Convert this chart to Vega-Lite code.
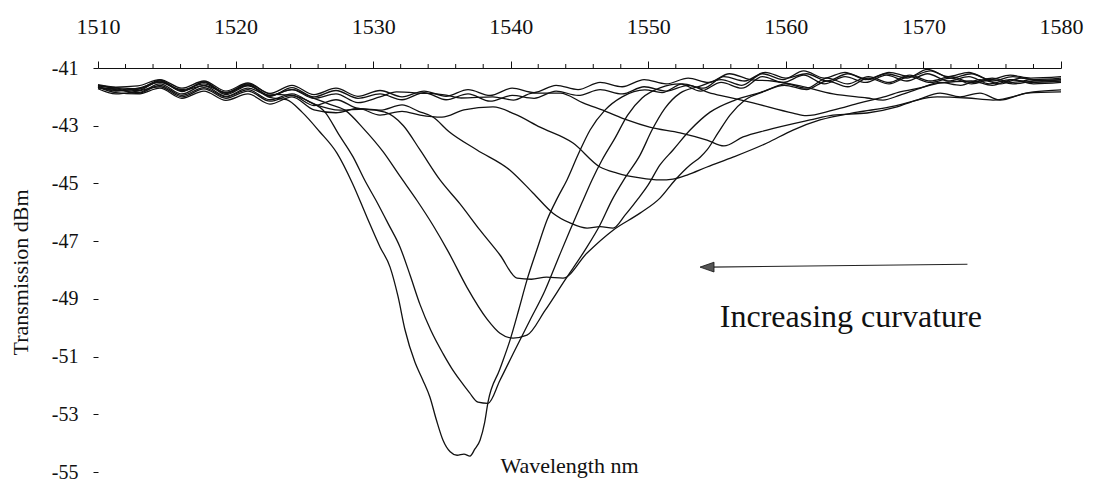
{
  "$schema": "https://vega.github.io/schema/vega-lite/v6.json",
  "width": 963,
  "height": 404,
  "autosize": "none",
  "padding": {"left": 98, "top": 68, "right": 34, "bottom": 9},
  "background": "white",
  "config": {"view": {"stroke": null}, "font": "Liberation Serif"},
  "datasets": {
    "spectra": [
      {"curve":"A","nm":1510,"dBm":-41.62},{"curve":"A","nm":1511.3,"dBm":-41.7},{"curve":"A","nm":1512.9,"dBm":-41.78},{"curve":"A","nm":1514.5,"dBm":-41.45},{"curve":"A","nm":1516.1,"dBm":-41.82},{"curve":"A","nm":1517.7,"dBm":-41.5},{"curve":"A","nm":1519.3,"dBm":-41.92},{"curve":"A","nm":1520.9,"dBm":-41.62},{"curve":"A","nm":1522.5,"dBm":-42.02},{"curve":"A","nm":1523.7,"dBm":-42.1},{"curve":"A","nm":1524.83,"dBm":-42.53},{"curve":"A","nm":1526.1,"dBm":-43.2},{"curve":"A","nm":1527.37,"dBm":-43.95},{"curve":"A","nm":1528.5,"dBm":-45.0},{"curve":"A","nm":1529.55,"dBm":-46.17},{"curve":"A","nm":1530.5,"dBm":-47.2},{"curve":"A","nm":1531.23,"dBm":-47.9},{"curve":"A","nm":1531.8,"dBm":-48.9},{"curve":"A","nm":1532.32,"dBm":-50.08},{"curve":"A","nm":1533.04,"dBm":-51.2},{"curve":"A","nm":1533.6,"dBm":-51.8},{"curve":"A","nm":1534.13,"dBm":-52.41},{"curve":"A","nm":1534.6,"dBm":-53.2},{"curve":"A","nm":1535.08,"dBm":-53.9},{"curve":"A","nm":1535.6,"dBm":-54.3},{"curve":"A","nm":1536.1,"dBm":-54.42},{"curve":"A","nm":1536.6,"dBm":-54.38},{"curve":"A","nm":1537.04,"dBm":-54.45},{"curve":"A","nm":1537.4,"dBm":-54.2},{"curve":"A","nm":1537.77,"dBm":-53.9},{"curve":"A","nm":1538.1,"dBm":-53.3},{"curve":"A","nm":1538.35,"dBm":-52.58},{"curve":"A","nm":1539.2,"dBm":-51.45},{"curve":"A","nm":1539.95,"dBm":-50.43},{"curve":"A","nm":1540.6,"dBm":-49.35},{"curve":"A","nm":1541.18,"dBm":-48.35},{"curve":"A","nm":1541.9,"dBm":-47.3},{"curve":"A","nm":1542.64,"dBm":-46.27},{"curve":"A","nm":1543.4,"dBm":-45.5},{"curve":"A","nm":1544.09,"dBm":-44.88},{"curve":"A","nm":1544.9,"dBm":-44.0},{"curve":"A","nm":1545.77,"dBm":-43.15},{"curve":"A","nm":1546.85,"dBm":-42.46},{"curve":"A","nm":1548.1,"dBm":-42.0},{"curve":"A","nm":1549.75,"dBm":-41.76},{"curve":"A","nm":1551,"dBm":-41.85},{"curve":"A","nm":1552.5,"dBm":-41.55},{"curve":"A","nm":1554,"dBm":-41.7},{"curve":"A","nm":1555.5,"dBm":-41.3},{"curve":"A","nm":1557,"dBm":-41.45},{"curve":"A","nm":1558.5,"dBm":-41.15},{"curve":"A","nm":1560,"dBm":-41.35},{"curve":"A","nm":1561.5,"dBm":-41.2},{"curve":"A","nm":1563,"dBm":-41.45},{"curve":"A","nm":1564.5,"dBm":-41.2},{"curve":"A","nm":1566,"dBm":-41.4},{"curve":"A","nm":1567.5,"dBm":-41.15},{"curve":"A","nm":1569,"dBm":-41.3},{"curve":"A","nm":1570.5,"dBm":-41.1},{"curve":"A","nm":1572,"dBm":-41.35},{"curve":"A","nm":1573.5,"dBm":-41.2},{"curve":"A","nm":1575,"dBm":-41.45},{"curve":"A","nm":1576.5,"dBm":-41.3},{"curve":"A","nm":1578,"dBm":-41.4},{"curve":"A","nm":1580,"dBm":-41.35},

      {"curve":"B","nm":1510,"dBm":-41.68},{"curve":"B","nm":1511.3,"dBm":-41.75},{"curve":"B","nm":1512.9,"dBm":-41.85},{"curve":"B","nm":1514.5,"dBm":-41.55},{"curve":"B","nm":1516.1,"dBm":-41.9},{"curve":"B","nm":1517.7,"dBm":-41.6},{"curve":"B","nm":1519.3,"dBm":-41.85},{"curve":"B","nm":1520.9,"dBm":-41.55},{"curve":"B","nm":1522.5,"dBm":-41.9},{"curve":"B","nm":1524.1,"dBm":-41.95},{"curve":"B","nm":1525.3,"dBm":-42.15},{"curve":"B","nm":1526.5,"dBm":-42.53},{"curve":"B","nm":1527.5,"dBm":-43.3},{"curve":"B","nm":1528.54,"dBm":-44.08},{"curve":"B","nm":1529.4,"dBm":-44.9},{"curve":"B","nm":1530.28,"dBm":-45.65},{"curve":"B","nm":1531.1,"dBm":-46.4},{"curve":"B","nm":1531.95,"dBm":-47.2},{"curve":"B","nm":1532.7,"dBm":-48.2},{"curve":"B","nm":1533.41,"dBm":-49.2},{"curve":"B","nm":1534.2,"dBm":-50.1},{"curve":"B","nm":1535.08,"dBm":-50.9},{"curve":"B","nm":1535.7,"dBm":-51.4},{"curve":"B","nm":1536.31,"dBm":-51.82},{"curve":"B","nm":1537.0,"dBm":-52.25},{"curve":"B","nm":1537.62,"dBm":-52.58},{"curve":"B","nm":1538.35,"dBm":-52.62},{"curve":"B","nm":1539.22,"dBm":-51.82},{"curve":"B","nm":1540.3,"dBm":-50.78},{"curve":"B","nm":1541.4,"dBm":-49.74},{"curve":"B","nm":1542.5,"dBm":-48.7},{"curve":"B","nm":1543.4,"dBm":-47.66},{"curve":"B","nm":1544.31,"dBm":-46.62},{"curve":"B","nm":1545.26,"dBm":-45.58},{"curve":"B","nm":1545.91,"dBm":-44.88},{"curve":"B","nm":1546.64,"dBm":-44.19},{"curve":"B","nm":1547.58,"dBm":-43.43},{"curve":"B","nm":1548.5,"dBm":-42.63},{"curve":"B","nm":1549.55,"dBm":-42.04},{"curve":"B","nm":1550.85,"dBm":-41.69},{"curve":"B","nm":1552.3,"dBm":-41.55},{"curve":"B","nm":1553.8,"dBm":-41.8},{"curve":"B","nm":1555.3,"dBm":-41.5},{"curve":"B","nm":1556.8,"dBm":-41.7},{"curve":"B","nm":1558.3,"dBm":-41.3},{"curve":"B","nm":1559.8,"dBm":-41.5},{"curve":"B","nm":1561.3,"dBm":-41.25},{"curve":"B","nm":1562.8,"dBm":-41.55},{"curve":"B","nm":1564.3,"dBm":-41.3},{"curve":"B","nm":1565.8,"dBm":-41.5},{"curve":"B","nm":1567.3,"dBm":-41.25},{"curve":"B","nm":1568.8,"dBm":-41.45},{"curve":"B","nm":1570.3,"dBm":-41.2},{"curve":"B","nm":1571.8,"dBm":-41.45},{"curve":"B","nm":1573.3,"dBm":-41.3},{"curve":"B","nm":1574.8,"dBm":-41.55},{"curve":"B","nm":1576.3,"dBm":-41.4},{"curve":"B","nm":1577.8,"dBm":-41.5},{"curve":"B","nm":1580,"dBm":-41.45},

      {"curve":"C","nm":1510,"dBm":-41.65},{"curve":"C","nm":1511.3,"dBm":-41.8},{"curve":"C","nm":1512.9,"dBm":-41.7},{"curve":"C","nm":1514.5,"dBm":-41.5},{"curve":"C","nm":1516.1,"dBm":-41.78},{"curve":"C","nm":1517.7,"dBm":-41.62},{"curve":"C","nm":1519.3,"dBm":-41.98},{"curve":"C","nm":1520.9,"dBm":-41.7},{"curve":"C","nm":1522.5,"dBm":-41.95},{"curve":"C","nm":1524.1,"dBm":-41.75},{"curve":"C","nm":1525.7,"dBm":-42.05},{"curve":"C","nm":1526.8,"dBm":-42.25},{"curve":"C","nm":1527.95,"dBm":-42.46},{"curve":"C","nm":1529.3,"dBm":-43.1},{"curve":"C","nm":1530.72,"dBm":-43.9},{"curve":"C","nm":1531.95,"dBm":-44.75},{"curve":"C","nm":1533.2,"dBm":-45.6},{"curve":"C","nm":1534.35,"dBm":-46.45},{"curve":"C","nm":1535.5,"dBm":-47.4},{"curve":"C","nm":1536.82,"dBm":-48.6},{"curve":"C","nm":1538.28,"dBm":-49.7},{"curve":"C","nm":1539.22,"dBm":-50.19},{"curve":"C","nm":1540.17,"dBm":-50.36},{"curve":"C","nm":1541.18,"dBm":-50.26},{"curve":"C","nm":1542.5,"dBm":-49.4},{"curve":"C","nm":1543.94,"dBm":-48.35},{"curve":"C","nm":1545.4,"dBm":-47.31},{"curve":"C","nm":1546.49,"dBm":-46.44},{"curve":"C","nm":1547.36,"dBm":-45.58},{"curve":"C","nm":1548.31,"dBm":-44.81},{"curve":"C","nm":1549.4,"dBm":-44.02},{"curve":"C","nm":1550.27,"dBm":-43.15},{"curve":"C","nm":1551.22,"dBm":-42.39},{"curve":"C","nm":1552.31,"dBm":-41.87},{"curve":"C","nm":1553.77,"dBm":-41.63},{"curve":"C","nm":1555.3,"dBm":-41.4},{"curve":"C","nm":1556.8,"dBm":-41.6},{"curve":"C","nm":1558.3,"dBm":-41.2},{"curve":"C","nm":1559.8,"dBm":-41.4},{"curve":"C","nm":1561.3,"dBm":-41.1},{"curve":"C","nm":1562.8,"dBm":-41.35},{"curve":"C","nm":1564.3,"dBm":-41.15},{"curve":"C","nm":1565.8,"dBm":-41.4},{"curve":"C","nm":1567.3,"dBm":-41.2},{"curve":"C","nm":1568.8,"dBm":-41.35},{"curve":"C","nm":1570.3,"dBm":-41.05},{"curve":"C","nm":1571.8,"dBm":-41.3},{"curve":"C","nm":1573.3,"dBm":-41.15},{"curve":"C","nm":1574.8,"dBm":-41.4},{"curve":"C","nm":1576.3,"dBm":-41.25},{"curve":"C","nm":1577.8,"dBm":-41.35},{"curve":"C","nm":1580,"dBm":-41.3},

      {"curve":"D","nm":1510,"dBm":-41.7},{"curve":"D","nm":1511.3,"dBm":-41.72},{"curve":"D","nm":1512.9,"dBm":-41.88},{"curve":"D","nm":1514.5,"dBm":-41.6},{"curve":"D","nm":1516.1,"dBm":-41.95},{"curve":"D","nm":1517.7,"dBm":-41.68},{"curve":"D","nm":1519.3,"dBm":-42.0},{"curve":"D","nm":1520.9,"dBm":-41.75},{"curve":"D","nm":1522.5,"dBm":-42.1},{"curve":"D","nm":1524.1,"dBm":-41.9},{"curve":"D","nm":1525.7,"dBm":-42.25},{"curve":"D","nm":1527.6,"dBm":-42.46},{"curve":"D","nm":1529.3,"dBm":-42.42},{"curve":"D","nm":1530.86,"dBm":-42.53},{"curve":"D","nm":1532.2,"dBm":-43.0},{"curve":"D","nm":1533.41,"dBm":-43.84},{"curve":"D","nm":1534.86,"dBm":-44.88},{"curve":"D","nm":1536.3,"dBm":-45.7},{"curve":"D","nm":1537.77,"dBm":-46.62},{"curve":"D","nm":1539.22,"dBm":-47.48},{"curve":"D","nm":1540.46,"dBm":-48.28},{"curve":"D","nm":1541.5,"dBm":-48.32},{"curve":"D","nm":1542.6,"dBm":-48.25},{"curve":"D","nm":1543.8,"dBm":-48.28},{"curve":"D","nm":1545.55,"dBm":-47.41},{"curve":"D","nm":1547.44,"dBm":-46.62},{"curve":"D","nm":1549.4,"dBm":-46.03},{"curve":"D","nm":1550.85,"dBm":-45.51},{"curve":"D","nm":1551.95,"dBm":-44.88},{"curve":"D","nm":1553.04,"dBm":-44.36},{"curve":"D","nm":1553.77,"dBm":-44.09},{"curve":"D","nm":1554.27,"dBm":-43.84},{"curve":"D","nm":1555.07,"dBm":-43.25},{"curve":"D","nm":1555.94,"dBm":-42.63},{"curve":"D","nm":1557.03,"dBm":-42.11},{"curve":"D","nm":1558.48,"dBm":-41.8},{"curve":"D","nm":1560,"dBm":-41.55},{"curve":"D","nm":1561.5,"dBm":-41.7},{"curve":"D","nm":1563,"dBm":-41.35},{"curve":"D","nm":1564.5,"dBm":-41.55},{"curve":"D","nm":1566,"dBm":-41.3},{"curve":"D","nm":1567.5,"dBm":-41.5},{"curve":"D","nm":1569,"dBm":-41.25},{"curve":"D","nm":1570.5,"dBm":-41.45},{"curve":"D","nm":1572,"dBm":-41.3},{"curve":"D","nm":1573.5,"dBm":-41.5},{"curve":"D","nm":1575,"dBm":-41.35},{"curve":"D","nm":1576.5,"dBm":-41.5},{"curve":"D","nm":1578,"dBm":-41.4},{"curve":"D","nm":1580,"dBm":-41.5},

      {"curve":"E","nm":1510,"dBm":-41.72},{"curve":"E","nm":1511.3,"dBm":-41.9},{"curve":"E","nm":1512.9,"dBm":-41.8},{"curve":"E","nm":1514.5,"dBm":-41.65},{"curve":"E","nm":1516.1,"dBm":-42.0},{"curve":"E","nm":1517.7,"dBm":-41.72},{"curve":"E","nm":1519.3,"dBm":-42.05},{"curve":"E","nm":1520.9,"dBm":-41.8},{"curve":"E","nm":1522.5,"dBm":-42.15},{"curve":"E","nm":1524.1,"dBm":-41.95},{"curve":"E","nm":1525.7,"dBm":-42.3},{"curve":"E","nm":1527.3,"dBm":-42.1},{"curve":"E","nm":1528.9,"dBm":-42.4},{"curve":"E","nm":1530.5,"dBm":-42.46},{"curve":"E","nm":1532.1,"dBm":-42.28},{"curve":"E","nm":1533.3,"dBm":-42.5},{"curve":"E","nm":1534.35,"dBm":-42.7},{"curve":"E","nm":1535.5,"dBm":-43.2},{"curve":"E","nm":1537.55,"dBm":-43.84},{"curve":"E","nm":1539.95,"dBm":-44.54},{"curve":"E","nm":1541.62,"dBm":-45.33},{"curve":"E","nm":1543.07,"dBm":-46.03},{"curve":"E","nm":1544.31,"dBm":-46.37},{"curve":"E","nm":1545.55,"dBm":-46.55},{"curve":"E","nm":1546.5,"dBm":-46.5},{"curve":"E","nm":1547.44,"dBm":-46.55},{"curve":"E","nm":1548.31,"dBm":-46.1},{"curve":"E","nm":1549.18,"dBm":-45.58},{"curve":"E","nm":1549.98,"dBm":-45.06},{"curve":"E","nm":1550.85,"dBm":-44.36},{"curve":"E","nm":1551.8,"dBm":-43.84},{"curve":"E","nm":1553.04,"dBm":-43.15},{"curve":"E","nm":1554.49,"dBm":-42.53},{"curve":"E","nm":1556.3,"dBm":-42.11},{"curve":"E","nm":1558.12,"dBm":-41.85},{"curve":"E","nm":1559.9,"dBm":-41.6},{"curve":"E","nm":1561.5,"dBm":-41.75},{"curve":"E","nm":1563,"dBm":-41.45},{"curve":"E","nm":1564.5,"dBm":-41.65},{"curve":"E","nm":1566,"dBm":-41.35},{"curve":"E","nm":1567.5,"dBm":-41.55},{"curve":"E","nm":1569,"dBm":-41.3},{"curve":"E","nm":1570.5,"dBm":-41.5},{"curve":"E","nm":1572,"dBm":-41.35},{"curve":"E","nm":1573.5,"dBm":-41.55},{"curve":"E","nm":1575,"dBm":-41.4},{"curve":"E","nm":1576.5,"dBm":-41.55},{"curve":"E","nm":1578,"dBm":-41.45},{"curve":"E","nm":1580,"dBm":-41.4},

      {"curve":"F","nm":1510,"dBm":-41.66},{"curve":"F","nm":1511.3,"dBm":-41.85},{"curve":"F","nm":1512.9,"dBm":-41.9},{"curve":"F","nm":1514.5,"dBm":-41.7},{"curve":"F","nm":1516.1,"dBm":-42.05},{"curve":"F","nm":1517.7,"dBm":-41.8},{"curve":"F","nm":1519.3,"dBm":-42.12},{"curve":"F","nm":1520.9,"dBm":-41.9},{"curve":"F","nm":1522.5,"dBm":-42.25},{"curve":"F","nm":1524.1,"dBm":-42.0},{"curve":"F","nm":1525.7,"dBm":-42.45},{"curve":"F","nm":1527.3,"dBm":-42.55},{"curve":"F","nm":1528.9,"dBm":-42.4},{"curve":"F","nm":1530.5,"dBm":-42.63},{"curve":"F","nm":1532.1,"dBm":-42.5},{"curve":"F","nm":1533.41,"dBm":-42.63},{"curve":"F","nm":1535.0,"dBm":-42.7},{"curve":"F","nm":1536.6,"dBm":-42.45},{"curve":"F","nm":1538.71,"dBm":-42.35},{"curve":"F","nm":1540.3,"dBm":-42.6},{"curve":"F","nm":1542.13,"dBm":-43.05},{"curve":"F","nm":1544.53,"dBm":-43.6},{"curve":"F","nm":1546.49,"dBm":-44.43},{"curve":"F","nm":1547.73,"dBm":-44.64},{"curve":"F","nm":1549.4,"dBm":-44.81},{"curve":"F","nm":1550.85,"dBm":-44.88},{"curve":"F","nm":1551.8,"dBm":-44.85},{"curve":"F","nm":1552.82,"dBm":-44.71},{"curve":"F","nm":1554.27,"dBm":-44.43},{"curve":"F","nm":1556.16,"dBm":-44.09},{"curve":"F","nm":1558.63,"dBm":-43.6},{"curve":"F","nm":1560.52,"dBm":-43.15},{"curve":"F","nm":1562.48,"dBm":-42.8},{"curve":"F","nm":1565.2,"dBm":-42.53},{"curve":"F","nm":1567.57,"dBm":-42.35},{"curve":"F","nm":1569.53,"dBm":-42.11},{"curve":"F","nm":1571.21,"dBm":-41.87},{"curve":"F","nm":1572.66,"dBm":-42.0},{"curve":"F","nm":1574.11,"dBm":-41.87},{"curve":"F","nm":1575.57,"dBm":-42.11},{"curve":"F","nm":1577.53,"dBm":-41.87},{"curve":"F","nm":1580,"dBm":-41.83},

      {"curve":"G","nm":1510,"dBm":-41.6},{"curve":"G","nm":1511.3,"dBm":-41.68},{"curve":"G","nm":1512.9,"dBm":-41.72},{"curve":"G","nm":1514.5,"dBm":-41.48},{"curve":"G","nm":1516.1,"dBm":-41.75},{"curve":"G","nm":1517.7,"dBm":-41.55},{"curve":"G","nm":1519.3,"dBm":-41.85},{"curve":"G","nm":1520.9,"dBm":-41.6},{"curve":"G","nm":1522.5,"dBm":-41.95},{"curve":"G","nm":1524.1,"dBm":-41.75},{"curve":"G","nm":1525.7,"dBm":-42.05},{"curve":"G","nm":1527.3,"dBm":-41.9},{"curve":"G","nm":1528.9,"dBm":-42.2},{"curve":"G","nm":1530.5,"dBm":-42.0},{"curve":"G","nm":1531.7,"dBm":-41.83},{"curve":"G","nm":1533.4,"dBm":-41.87},{"curve":"G","nm":1535.3,"dBm":-41.94},{"curve":"G","nm":1536.4,"dBm":-42.04},{"curve":"G","nm":1538.7,"dBm":-42.0},{"curve":"G","nm":1540.2,"dBm":-42.11},{"curve":"G","nm":1541.6,"dBm":-41.87},{"curve":"G","nm":1543.6,"dBm":-41.87},{"curve":"G","nm":1545.26,"dBm":-42.21},{"curve":"G","nm":1546.9,"dBm":-42.5},{"curve":"G","nm":1548.45,"dBm":-42.8},{"curve":"G","nm":1550.1,"dBm":-43.05},{"curve":"G","nm":1552.31,"dBm":-43.25},{"curve":"G","nm":1554.27,"dBm":-43.5},{"curve":"G","nm":1555.5,"dBm":-43.7},{"curve":"G","nm":1556.89,"dBm":-43.39},{"curve":"G","nm":1558.63,"dBm":-43.15},{"curve":"G","nm":1561.76,"dBm":-42.8},{"curve":"G","nm":1563.43,"dBm":-42.63},{"curve":"G","nm":1565.9,"dBm":-42.56},{"curve":"G","nm":1568.08,"dBm":-42.35},{"curve":"G","nm":1569.53,"dBm":-42.11},{"curve":"G","nm":1571.0,"dBm":-42.0},{"curve":"G","nm":1573.2,"dBm":-42.04},{"curve":"G","nm":1575.06,"dBm":-42.11},{"curve":"G","nm":1578.0,"dBm":-41.83},{"curve":"G","nm":1580,"dBm":-41.76},

      {"curve":"H","nm":1510,"dBm":-41.64},{"curve":"H","nm":1511.3,"dBm":-41.78},{"curve":"H","nm":1512.9,"dBm":-41.74},{"curve":"H","nm":1514.5,"dBm":-41.42},{"curve":"H","nm":1516.1,"dBm":-41.8},{"curve":"H","nm":1517.7,"dBm":-41.48},{"curve":"H","nm":1519.3,"dBm":-41.88},{"curve":"H","nm":1520.9,"dBm":-41.58},{"curve":"H","nm":1522.5,"dBm":-41.98},{"curve":"H","nm":1524.1,"dBm":-41.68},{"curve":"H","nm":1525.7,"dBm":-42.0},{"curve":"H","nm":1527.3,"dBm":-41.78},{"curve":"H","nm":1528.9,"dBm":-42.05},{"curve":"H","nm":1530.5,"dBm":-41.9},{"curve":"H","nm":1532.1,"dBm":-42.1},{"curve":"H","nm":1533.7,"dBm":-41.85},{"curve":"H","nm":1535.3,"dBm":-42.1},{"curve":"H","nm":1536.9,"dBm":-41.9},{"curve":"H","nm":1538.5,"dBm":-42.15},{"curve":"H","nm":1540.1,"dBm":-41.95},{"curve":"H","nm":1541.7,"dBm":-42.05},{"curve":"H","nm":1543.3,"dBm":-41.8},{"curve":"H","nm":1544.9,"dBm":-41.95},{"curve":"H","nm":1546.5,"dBm":-41.75},{"curve":"H","nm":1548.1,"dBm":-41.9},{"curve":"H","nm":1549.7,"dBm":-41.65},{"curve":"H","nm":1551.3,"dBm":-41.8},{"curve":"H","nm":1552.9,"dBm":-41.6},{"curve":"H","nm":1554.4,"dBm":-41.85},{"curve":"H","nm":1555.72,"dBm":-42.0},{"curve":"H","nm":1557.61,"dBm":-42.21},{"curve":"H","nm":1560.52,"dBm":-42.56},{"curve":"H","nm":1561.5,"dBm":-42.65},{"curve":"H","nm":1563.43,"dBm":-42.46},{"curve":"H","nm":1565.39,"dBm":-42.21},{"curve":"H","nm":1567.06,"dBm":-42.01},{"curve":"H","nm":1568.3,"dBm":-41.83},{"curve":"H","nm":1569.75,"dBm":-41.69},{"curve":"H","nm":1571.21,"dBm":-41.52},{"curve":"H","nm":1573.5,"dBm":-41.45},{"curve":"H","nm":1575,"dBm":-41.6},{"curve":"H","nm":1576.5,"dBm":-41.4},{"curve":"H","nm":1578,"dBm":-41.55},{"curve":"H","nm":1580,"dBm":-41.5},

      {"curve":"I","nm":1510,"dBm":-41.58},{"curve":"I","nm":1511.3,"dBm":-41.66},{"curve":"I","nm":1512.9,"dBm":-41.62},{"curve":"I","nm":1514.5,"dBm":-41.4},{"curve":"I","nm":1516.1,"dBm":-41.7},{"curve":"I","nm":1517.7,"dBm":-41.45},{"curve":"I","nm":1519.3,"dBm":-41.8},{"curve":"I","nm":1520.9,"dBm":-41.52},{"curve":"I","nm":1522.5,"dBm":-41.88},{"curve":"I","nm":1524.1,"dBm":-41.6},{"curve":"I","nm":1525.7,"dBm":-41.92},{"curve":"I","nm":1527.3,"dBm":-41.7},{"curve":"I","nm":1528.9,"dBm":-41.98},{"curve":"I","nm":1530.5,"dBm":-41.78},{"curve":"I","nm":1532.1,"dBm":-42.0},{"curve":"I","nm":1533.7,"dBm":-41.8},{"curve":"I","nm":1535.3,"dBm":-41.98},{"curve":"I","nm":1536.9,"dBm":-41.75},{"curve":"I","nm":1538.5,"dBm":-41.95},{"curve":"I","nm":1540.1,"dBm":-41.7},{"curve":"I","nm":1541.7,"dBm":-41.85},{"curve":"I","nm":1543.3,"dBm":-41.6},{"curve":"I","nm":1544.9,"dBm":-41.75},{"curve":"I","nm":1546.5,"dBm":-41.5},{"curve":"I","nm":1548.1,"dBm":-41.65},{"curve":"I","nm":1549.7,"dBm":-41.4},{"curve":"I","nm":1551.3,"dBm":-41.55},{"curve":"I","nm":1552.9,"dBm":-41.35},{"curve":"I","nm":1554.4,"dBm":-41.5},{"curve":"I","nm":1555.9,"dBm":-41.2},{"curve":"I","nm":1557.4,"dBm":-41.4},{"curve":"I","nm":1559.0,"dBm":-41.45},{"curve":"I","nm":1561.03,"dBm":-41.62},{"curve":"I","nm":1563.43,"dBm":-41.9},{"curve":"I","nm":1565.9,"dBm":-42.04},{"curve":"I","nm":1567.06,"dBm":-42.11},{"curve":"I","nm":1568.3,"dBm":-41.94},{"curve":"I","nm":1569.8,"dBm":-41.7},{"curve":"I","nm":1571.2,"dBm":-41.5},{"curve":"I","nm":1572.7,"dBm":-41.6},{"curve":"I","nm":1574.1,"dBm":-41.4},{"curve":"I","nm":1575.6,"dBm":-41.55},{"curve":"I","nm":1577.1,"dBm":-41.35},{"curve":"I","nm":1578.6,"dBm":-41.45},{"curve":"I","nm":1580,"dBm":-41.4}
    ],
    "minorTicks": [
      {"nm":1512},{"nm":1514},{"nm":1516},{"nm":1518},{"nm":1522},{"nm":1524},{"nm":1526},{"nm":1528},
      {"nm":1532},{"nm":1534},{"nm":1536},{"nm":1538},{"nm":1542},{"nm":1544},{"nm":1546},{"nm":1548},
      {"nm":1552},{"nm":1554},{"nm":1556},{"nm":1558},{"nm":1562},{"nm":1564},{"nm":1566},{"nm":1568},
      {"nm":1572},{"nm":1574},{"nm":1576},{"nm":1578}
    ],
    "arrow": [{"nm": 1573.2, "dBm": -47.8, "nm2": 1554.4, "dBm2": -47.9}],
    "arrowhead": [{"nm": 1554.27, "dBm": -47.9}],
    "note": [{"nm": 1555.2, "dBm": -49.98, "text": "Increasing curvature"}]
  },
  "layer": [
    {
      "data": {"name": "spectra"},
      "mark": {"type": "line", "color": "#111", "strokeWidth": 1.3, "interpolate": "monotone"},
      "encoding": {
        "x": {
          "field": "nm", "type": "quantitative",
          "scale": {"domain": [1510, 1580], "nice": false, "zero": false},
          "axis": {
            "orient": "top",
            "values": [1510, 1520, 1530, 1540, 1550, 1560, 1570, 1580],
            "format": "d",
            "tickSize": 7, "tickColor": "#111", "tickWidth": 1,
            "domainColor": "#111", "domainWidth": 1.2,
            "grid": false,
            "labelFont": "Liberation Serif", "labelFontSize": 22, "labelColor": "#111",
            "labelPadding": 23, "labelFlush": false, "labelOverlap": false,
            "title": "Wavelength nm",
            "titleFont": "Liberation Serif", "titleFontSize": 22, "titleFontWeight": "normal", "titleColor": "#111",
            "titleX": 471, "titleY": 404, "titleAlign": "center", "titleBaseline": "alphabetic"
          }
        },
        "y": {
          "field": "dBm", "type": "quantitative",
          "scale": {"domain": [-55, -41], "nice": false, "zero": false},
          "axis": {
            "values": [-41, -43, -45, -47, -49, -51, -53, -55],
            "labelExpr": "'-' + abs(datum.value)",
            "domain": false, "grid": false,
            "tickSize": 5, "tickColor": "#111", "tickWidth": 1,
            "labelFont": "Liberation Serif", "labelFontSize": 20, "labelColor": "#111",
            "labelPadding": 15, "labelFlush": false, "labelOverlap": false,
            "title": "Transmission dBm",
            "titleFont": "Liberation Serif", "titleFontSize": 22, "titleFontWeight": "normal", "titleColor": "#111",
            "titleAngle": -90, "titleX": -71, "titleY": 204, "titleAlign": "center", "titleBaseline": "alphabetic"
          }
        },
        "detail": {"field": "curve"}
      }
    },
    {
      "data": {"name": "minorTicks"},
      "mark": {"type": "tick", "orient": "vertical", "size": 4, "thickness": 1, "color": "#111", "opacity": 1, "yOffset": -2},
      "encoding": {
        "x": {"field": "nm", "type": "quantitative"},
        "y": {"datum": -41, "type": "quantitative"}
      }
    },
    {
      "data": {"name": "arrow"},
      "mark": {"type": "rule", "color": "#222", "strokeWidth": 1.2},
      "encoding": {
        "x": {"field": "nm", "type": "quantitative"},
        "x2": {"field": "nm2"},
        "y": {"field": "dBm", "type": "quantitative"},
        "y2": {"field": "dBm2"}
      }
    },
    {
      "data": {"name": "arrowhead"},
      "mark": {"type": "point", "shape": "M-1,0L1,-0.7L1,0.7Z", "filled": true, "fill": "#555", "stroke": "#111", "strokeWidth": 0.8, "size": 196, "opacity": 1},
      "encoding": {
        "x": {"field": "nm", "type": "quantitative"},
        "y": {"field": "dBm", "type": "quantitative"}
      }
    },
    {
      "data": {"name": "note"},
      "mark": {"type": "text", "align": "left", "baseline": "alphabetic", "font": "Liberation Serif", "fontSize": 32, "color": "#111"},
      "encoding": {
        "x": {"field": "nm", "type": "quantitative"},
        "y": {"field": "dBm", "type": "quantitative"},
        "text": {"field": "text"}
      }
    }
  ]
}
